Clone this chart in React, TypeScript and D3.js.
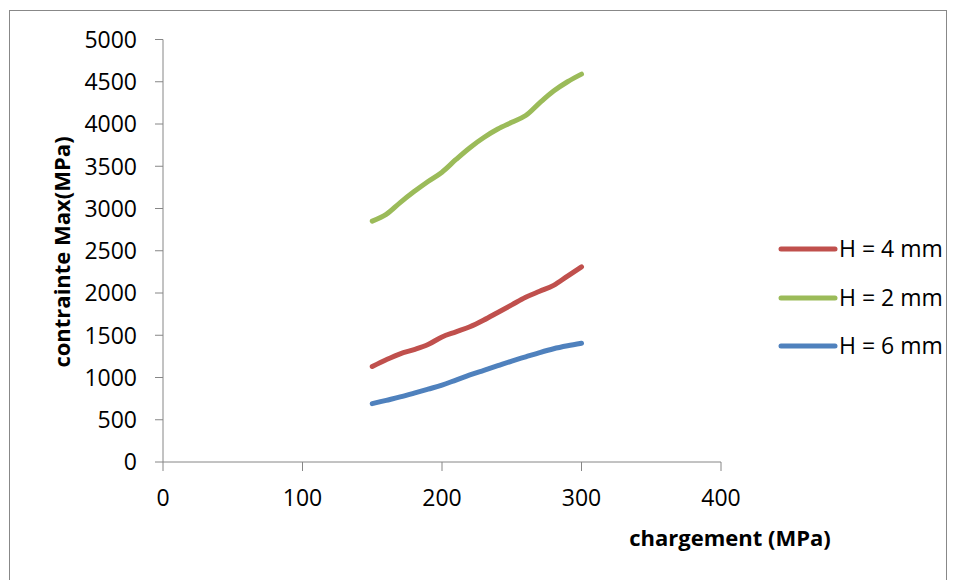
import React from "react";
import * as d3 from "d3";

const xValues = [150, 160, 170, 180, 190, 200, 210, 220, 230, 240, 250, 260, 270, 280, 290, 300];
const h4Values = [1130, 1210, 1280, 1330, 1390, 1480, 1540, 1600, 1680, 1770, 1860, 1950, 2020, 2090, 2200, 2310];
const h2Values = [2850, 2930, 3070, 3200, 3320, 3430, 3580, 3720, 3840, 3940, 4020, 4100, 4250, 4390, 4500, 4590];
const h6Values = [690, 730, 770, 815, 862, 910, 970, 1030, 1085, 1140, 1195, 1245, 1295, 1340, 1375, 1405];
const seriesNames = ["H = 4 mm", "H = 2 mm", "H = 6 mm"];
const seriesColors = ["#C0504D", "#9BBB59", "#4F81BD"];
const xTicks = [0, 100, 200, 300, 400];
const yTicks = [0, 500, 1000, 1500, 2000, 2500, 3000, 3500, 4000, 4500, 5000];

export default function App() {
  const W = 956, H = 580;
  const x = d3.scaleLinear().domain([0, 400]).range([163, 721]);
  const y = d3.scaleLinear().domain([0, 5000]).range([462, 39.5]);
  const allSeries = [h4Values, h2Values, h6Values];
  const line = d3
    .line<[number, number]>()
    .x((d) => x(d[0]))
    .y((d) => y(d[1]))
    .curve(d3.curveCatmullRom.alpha(0.5));
  const font = "'Open Sans', sans-serif";
  const axisColor = "#868686";
  const legendY = [249, 298, 346];

  return (
    <svg width={W} height={H} style={{ position: "absolute", left: 0, top: 0, background: "#fff" }}>
      <rect x={9.5} y={10.5} width={937} height={620} fill="#fff" stroke="#888" strokeWidth={1} />
      {/* axes */}
      <line x1={x(0)} x2={x(0)} y1={y(5000)} y2={y(0)} stroke={axisColor} strokeWidth={1} />
      <line x1={x(0)} x2={x(400)} y1={y(0)} y2={y(0)} stroke={axisColor} strokeWidth={1} />
      {yTicks.map((t) => (
        <g key={"y" + t}>
          <line x1={x(0) - 8} x2={x(0)} y1={y(t)} y2={y(t)} stroke={axisColor} />
          <text x={137} y={y(t)} dy="0.36em" textAnchor="end" fontFamily={font} fontSize={23} fill="#000">
            {t}
          </text>
        </g>
      ))}
      {xTicks.map((t) => (
        <g key={"x" + t}>
          <line x1={x(t)} x2={x(t)} y1={y(0)} y2={y(0) + 9} stroke={axisColor} />
          <text x={x(t)} y={506} textAnchor="middle" fontFamily={font} fontSize={23} fill="#000">
            {t}
          </text>
        </g>
      ))}
      {/* titles */}
      <text x={730} y={546} textAnchor="middle" fontFamily={font} fontWeight="bold" fontSize={22} fill="#000">
        chargement (MPa)
      </text>
      <text
        transform={`translate(70,252) rotate(-90)`}
        textAnchor="middle"
        fontFamily={font}
        fontWeight="bold"
        fontSize={22}
        fill="#000"
      >
        contrainte Max(MPa)
      </text>
      {/* series */}
      {allSeries.map((vals, i) => (
        <path
          key={"s" + i}
          d={line(xValues.map((xv, j) => [xv, vals[j]] as [number, number])) || ""}
          fill="none"
          stroke={seriesColors[i]}
          strokeWidth={5}
          strokeLinecap="round"
          strokeLinejoin="round"
        />
      ))}
      {/* legend */}
      {seriesNames.map((name, i) => (
        <g key={"l" + i}>
          <line x1={781} x2={835} y1={legendY[i]} y2={legendY[i]} stroke={seriesColors[i]} strokeWidth={5} strokeLinecap="round" />
          <text x={839} y={legendY[i]} dy="0.36em" fontFamily={font} fontSize={23} fill="#000">
            {name}
          </text>
        </g>
      ))}
    </svg>
  );
}
